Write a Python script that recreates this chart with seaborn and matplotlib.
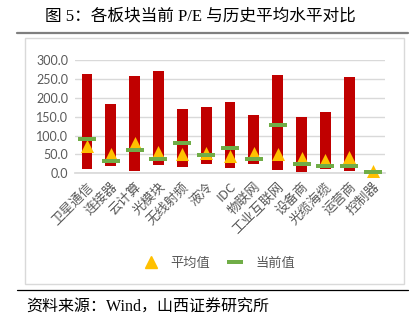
import numpy as np
import pandas as pd
import matplotlib
matplotlib.use("Agg")
import matplotlib.pyplot as plt
import seaborn as sns
from matplotlib.lines import Line2D
from matplotlib.patches import Rectangle

sectors = ["卫星通信", "连接器", "云计算", "光模块", "无线射频", "液冷", "IDC",
           "物联网", "工业互联网", "设备商", "光缆海缆", "运营商", "控制器"]
pe_high = [262, 184, 258, 272, 169, 175, 190, 154, 259, 149, 161, 255, 3]
pe_low = [11, 19, 6, 22, 16, 25, 13, 24, 9, 4, 11, 6, 3]
pe_mean = [72, 51, 81, 57, 50, 55, 46, 55, 51, 41, 35, 42, 5]
pe_now = [90, 32, 61, 37, 79, 48, 67, 37, 129, 24, 19, 19, 3]
y_ticks = [0, 50, 100, 150, 200, 250, 300]

df = pd.DataFrame({
    "sector": sectors,
    "span": np.array(pe_high) - np.array(pe_low),
    "low": pe_low,
    "mean": pe_mean,
    "now": pe_now,
})

sns.set_theme(style="white")
plt.rcParams["font.family"] = ["Noto Sans CJK SC", "DejaVu Sans"]

RED = "#C00000"
GOLD = "#FFC000"
GREEN = "#70AD47"
GRID = "#D9D9D9"
TXT = "#595959"
SERIF_CJK = ["Liberation Serif", "Noto Sans CJK SC"]

W, H = 418, 322
fig = plt.figure(figsize=(W / 100, H / 100), dpi=100)
ax = fig.add_axes([75 / W, 1 - 173.3 / H, 310 / W, 113.3 / H])

# historical range as floating bars
sns.barplot(data=df, x="sector", y="span", bottom=df["low"].to_numpy(),
            color=RED, saturation=1, width=0.45, ax=ax, zorder=2,
            linewidth=0)

# historical mean (triangles) and current P/E (dashes)
ax.scatter(np.arange(len(sectors)), df["mean"], marker="^", s=88,
           color=GOLD, linewidths=0, zorder=3, clip_on=False)
dash = [(-1, -0.27), (1, -0.27), (1, 0.27), (-1, 0.27), (-1, -0.27)]
ax.scatter(np.arange(len(sectors)), df["now"], marker=dash, s=150,
           color=GREEN, linewidths=0, zorder=4, clip_on=False)

ax.set_ylim(0, 300)
ax.set_xlim(-0.5, len(sectors) - 0.5)
ax.set_yticks(y_ticks)
ax.set_yticklabels([f"{v:.1f}" for v in y_ticks], color=TXT, fontsize=9,
                   family=["Lato", "DejaVu Sans"])
ax.yaxis.grid(True, color=GRID, linewidth=1)
ax.set_axisbelow(True)
ax.set_xlabel("")
ax.set_ylabel("")
for s in ["top", "right", "left"]:
    ax.spines[s].set_visible(False)
ax.spines["bottom"].set_color(GRID)
ax.tick_params(axis="both", length=0, pad=5)
ax.set_xticks(np.arange(len(sectors)))
ax.set_xticklabels(sectors, rotation=45, ha="right", rotation_mode="anchor",
                   color=TXT, fontsize=9.5)

# legend
handles = [
    Line2D([], [], marker="^", linestyle="none", color=GOLD, markersize=9),
    Line2D([], [], marker=dash, linestyle="none", color=GREEN, markersize=11,
           markeredgewidth=0),
]
leg = fig.legend(handles, ["平均值", "当前值"], loc="center",
                 bbox_to_anchor=(219 / W, 1 - 263 / H), ncol=2, frameon=False,
                 fontsize=9.5, columnspacing=1.3, handletextpad=0.9,
                 handlelength=1.2)
for t in leg.get_texts():
    t.set_color(TXT)

# frame and rules
fig.add_artist(Rectangle((25 / W, 1 - 284 / H), 379 / W, 246 / H,
                         transform=fig.transFigure, fill=False,
                         edgecolor=GRID, linewidth=1))
fig.add_artist(Line2D([17 / W, 408 / W], [1 - 33 / H] * 2, color="#7F7F7F",
                      linewidth=1.6, transform=fig.transFigure))
fig.add_artist(Line2D([17 / W, 408 / W], [1 - 290 / H] * 2, color="black",
                      linewidth=0.9, transform=fig.transFigure))

fig.text(45 / W, 1 - 17 / H, "图 5：各板块当前 P/E 与历史平均水平对比",
         fontsize=12, va="center", ha="left", color="black", family=SERIF_CJK)
fig.text(26 / W, 1 - 308 / H, "资料来源：Wind，山西证券研究所",
         fontsize=11.5, va="center", ha="left", color="black",
         family=SERIF_CJK)

fig.savefig("out.png", dpi=100)
